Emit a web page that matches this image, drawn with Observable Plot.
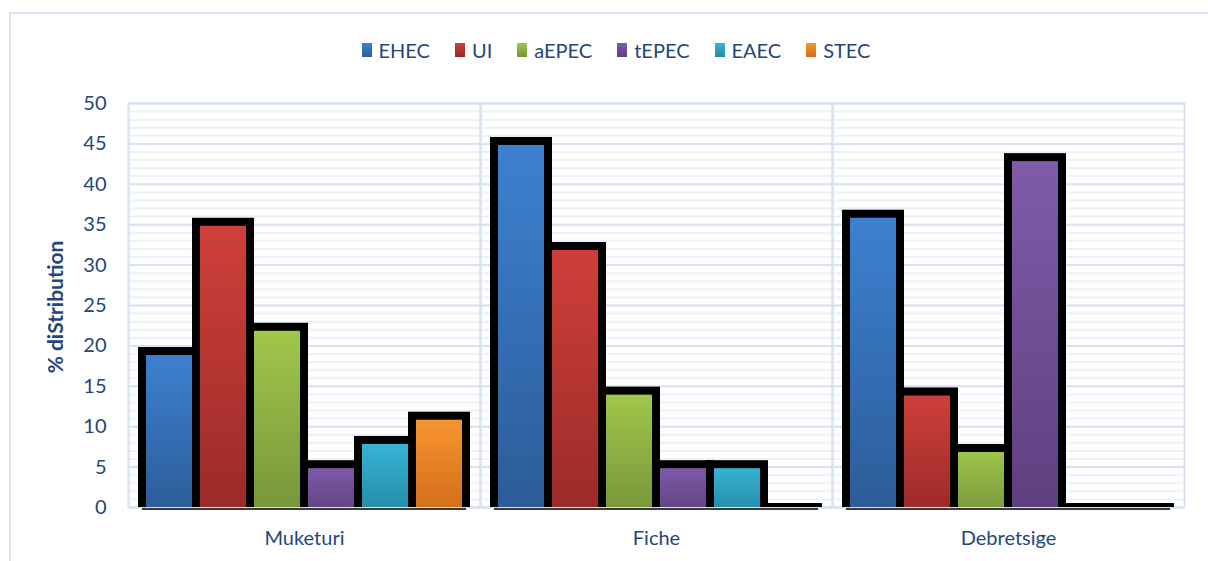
<!DOCTYPE html>
<html>
<head>
<meta charset="utf-8">
<script src="https://cdn.jsdelivr.net/npm/d3@7"></script>
<script src="https://cdn.jsdelivr.net/npm/@observablehq/plot@0.6"></script>
<style>
  html, body { margin: 0; padding: 0; background: #fff; }
  #wrap { position: relative; width: 1208px; height: 561px; overflow: hidden; font-family: Lato, "Open Sans", sans-serif; }
  #border { position: absolute; left: 9px; top: 12px; right: -4px; bottom: -4px; border-left: 2px solid #d8e4f4; border-top: 2px solid #d8e4f4; }
  #legend { position: relative; height: 80px; display: flex; justify-content: center; align-items: center; padding-top: 20px; padding-left: 24px; box-sizing: border-box; gap: 25px; color: #25467a; font-size: 20px; }
  #legend .item { display: flex; align-items: center; gap: 7px; }
  #legend .sw { width: 10px; height: 14px; display: inline-block; }
  #chart { position: relative; }
</style>
</head>
<body>
<div id="wrap">
  <div id="border"></div>
  <div id="legend"></div>
  <div id="chart"></div>
</div>
<script>
// Sites and pathotypes
const sites = ["Muketuri", "Fiche", "Debretsige"];
const pathotypes = ["EHEC", "UI", "aEPEC", "tEPEC", "EAEC", "STEC"];

// % distribution of each pathotype per site
const muketuri = [19.3, 35.3, 22.3, 5.3, 8.3, 11.3];
const fiche = [45.3, 32.3, 14.4, 5.3, 5.3, 0];
const debretsige = [36.3, 14.3, 7.3, 43.3, 0, 0];

// Gradient end colours (top, bottom) per pathotype
const topColors = ["#3d81d1", "#d03f3b", "#a2c84b", "#7f5ca9", "#37b6d8", "#f8962f"];
const bottomColors = ["#2b5b97", "#992a28", "#75943a", "#5d3f7f", "#2488a2", "#d06c1c"];

const yTicks = [0, 5, 10, 15, 20, 25, 30, 35, 40, 45, 50];
const minorTicks = d3.range(0, 51, 1);

const table = [];
[muketuri, fiche, debretsige].forEach((vals, i) => {
  vals.forEach((v, j) => table.push({site: sites[i], type: pathotypes[j], value: v}));
});

const gradId = (t) => "grad-" + t;
const textColor = "#25467a";

// Legend
const legend = document.getElementById("legend");
pathotypes.forEach((t, i) => {
  const item = document.createElement("div");
  item.className = "item";
  const sw = document.createElement("span");
  sw.className = "sw";
  sw.style.background = `linear-gradient(${topColors[i]}, ${bottomColors[i]})`;
  const label = document.createElement("span");
  label.textContent = t;
  item.append(sw, label);
  legend.append(item);
});

const chart = Plot.plot({
  width: 1208,
  height: 481,
  marginTop: 23,
  marginBottom: 54,
  marginLeft: 127,
  marginRight: 23,
  style: {fontFamily: "Lato, 'Open Sans', sans-serif", fontSize: "20px", color: textColor, background: "transparent"},
  fx: {domain: sites, padding: 0, label: null, axis: "bottom", tickSize: 0, tickPadding: 23},
  x: {domain: pathotypes, paddingInner: 0, paddingOuter: 0.23, axis: null},
  y: {domain: [0, 50], ticks: yTicks, label: null, tickSize: 0, tickPadding: 22},
  color: {domain: pathotypes, range: pathotypes.map(t => `url(#${gradId(t)})`)},
  marks: [
    Plot.ruleY(minorTicks, {stroke: "#edf2fa", strokeWidth: 2}),
    Plot.ruleY(yTicks, {stroke: "#d6e2f3", strokeWidth: 2}),
    Plot.frame({stroke: "#d6e2f3", strokeWidth: 2}),
    Plot.barY(table, {
      fx: "site", x: "type", y: "value", fill: "type",
      stroke: "black", strokeWidth: 8, insetBottom: -10, clip: true
    }),
    Plot.tickY(table, {fx: "site", x: "type", y: () => 0, stroke: "#3a3a3a", strokeWidth: 2, dy: 1.5})
  ]
});

// Vertical gradient fills for the bars
const svg = d3.select(chart.tagName.toLowerCase() === "svg" ? chart : chart.querySelector("svg"));
const defs = svg.insert("defs", ":first-child");
pathotypes.forEach((t, i) => {
  const g = defs.append("linearGradient").attr("id", gradId(t)).attr("x1", 0).attr("y1", 0).attr("x2", 0).attr("y2", 1);
  g.append("stop").attr("offset", "0%").attr("stop-color", topColors[i]);
  g.append("stop").attr("offset", "100%").attr("stop-color", bottomColors[i]);
});

// y-axis title
svg.append("text")
  .attr("transform", "translate(58,227) rotate(-90)")
  .attr("text-anchor", "middle")
  .attr("dominant-baseline", "middle")
  .attr("fill", textColor)
  .attr("font-weight", "bold")
  .attr("font-size", 21)
  .text("% diStribution");

document.getElementById("chart").append(chart);
</script>
</body>
</html>
